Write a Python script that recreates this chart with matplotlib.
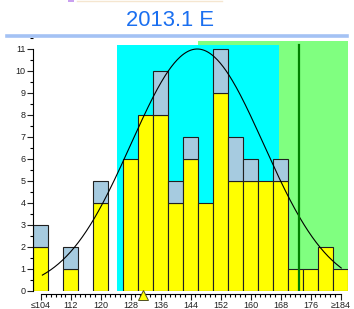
import matplotlib
matplotlib.use('Agg')
import matplotlib.pyplot as plt
import numpy as np
from matplotlib.ticker import MultipleLocator, FixedLocator
from matplotlib.patches import Rectangle

plt.rcParams['font.family'] = ['Liberation Sans', 'DejaVu Sans']

# data
bin_centers = [104, 108, 112, 116, 120, 124, 128, 132, 136, 140, 144,
               148, 152, 156, 160, 164, 168, 172, 176, 180, 184]
yellow_counts = [2, 0, 1, 0, 4, 0, 6, 8, 8, 4, 6, 4, 9, 5, 5, 5, 5, 1, 1, 2, 1]
total_counts = [3, 0, 2, 0, 5, 0, 6, 8, 10, 5, 7, 4, 11, 7, 6, 5, 6, 1, 1, 2, 1]
tick_values = [104, 112, 120, 128, 136, 144, 152, 160, 168, 176, 184]
tick_labels = ['≤104', '112', '120', '128', '136', '144', '152', '160', '168', '176', '≥184']
cyan_band = (124.5, 167.5)
green_band = (146.1, 186.0)
limit_line = 172.8
target_mark = 131.3
curve_mean, curve_sd, curve_peak = 145.8, 17.7, 11.0
curve_range = (104.5, 184.2)

W, H = 354, 309
fig = plt.figure(figsize=(W / 100, H / 100), dpi=100)

# axes placed in pixel terms: x 33..348, y 291 (0) .. 38 (11.5)
ax = fig.add_axes([33 / W, (H - 291) / H, 315 / W, 253 / H])
ax.set_xlim(102, 186)
ax.set_ylim(0, 11.5)
ax.patch.set_alpha(0)

# background bands
ax.add_patch(Rectangle((green_band[0], 0), green_band[1] - green_band[0], 11.36,
                       facecolor='#80ff80', edgecolor='none', zorder=0))
ax.add_patch(Rectangle((cyan_band[0], 0), cyan_band[1] - cyan_band[0], 11.18,
                       facecolor='#00ffff', edgecolor='none', zorder=1))

# stacked bars
for c, y, t in zip(bin_centers, yellow_counts, total_counts):
    if y > 0:
        ax.bar(c, y, width=4, color='#ffff00', edgecolor='#202020', linewidth=0.8, zorder=2)
    if t > y:
        ax.bar(c, t - y, bottom=y, width=4, color='#a6cbe0', edgecolor='#202020',
               linewidth=0.8, zorder=2)

# fitted curve
xs = np.linspace(curve_range[0], curve_range[1], 300)
ys = curve_peak * np.exp(-0.5 * ((xs - curve_mean) / curve_sd) ** 2)
ax.plot(xs, ys, color='black', linewidth=0.8, zorder=3)

# limit line and target marker
ax.plot([limit_line, limit_line], [0, 11.2], color='#008000', linewidth=1.6, zorder=4)
ax.plot([target_mark], [-0.2], marker='^', markersize=6.5, markerfacecolor='#ffff00',
        markeredgecolor='#505020', markeredgewidth=0.7, clip_on=False, zorder=5)

# axes styling
for s in ['top', 'right']:
    ax.spines[s].set_visible(False)
ax.spines['left'].set_bounds(0, 11)
ax.spines['left'].set_linewidth(0.8)
ax.spines['bottom'].set_bounds(104, 184)
ax.spines['bottom'].set_position(('outward', 2))
ax.spines['bottom'].set_linewidth(0.8)

ax.yaxis.set_major_locator(MultipleLocator(1))
ax.yaxis.set_minor_locator(MultipleLocator(0.5))
ax.xaxis.set_major_locator(FixedLocator(tick_values))
ax.xaxis.set_minor_locator(FixedLocator(np.arange(104, 184.1, 4 / 3)))
ax.set_xticklabels(tick_labels)
ax.tick_params(axis='both', which='major', direction='out', length=4, width=0.8,
               labelsize=6.5, pad=1.5, colors='#202020')
ax.tick_params(axis='both', which='minor', direction='out', length=2, width=0.8)
ax.tick_params(axis='x', which='major', length=4.5, pad=1)

# title and decoration
fig.text(169.5 / W, 1 - 21 / H, '2013.1 E', ha='center', va='center',
         fontsize=15.8, color='#1a6ff0')
fig.add_artist(plt.Line2D([7 / W, 347 / W], [1 - 36 / H, 1 - 36 / H],
                          color='#a4c2f4', linewidth=2.6, transform=fig.transFigure))
fig.add_artist(Rectangle((68 / W, 1 - 2 / H), 6 / W, 2 / H, facecolor='#c9a0f0',
                         edgecolor='none', transform=fig.transFigure))
fig.add_artist(plt.Line2D([77 / W, 222 / W], [1 - 0.5 / H, 1 - 0.5 / H],
                          color='#f5e6d0', linewidth=1.0, transform=fig.transFigure))

fig.savefig('out.png', dpi=100)
